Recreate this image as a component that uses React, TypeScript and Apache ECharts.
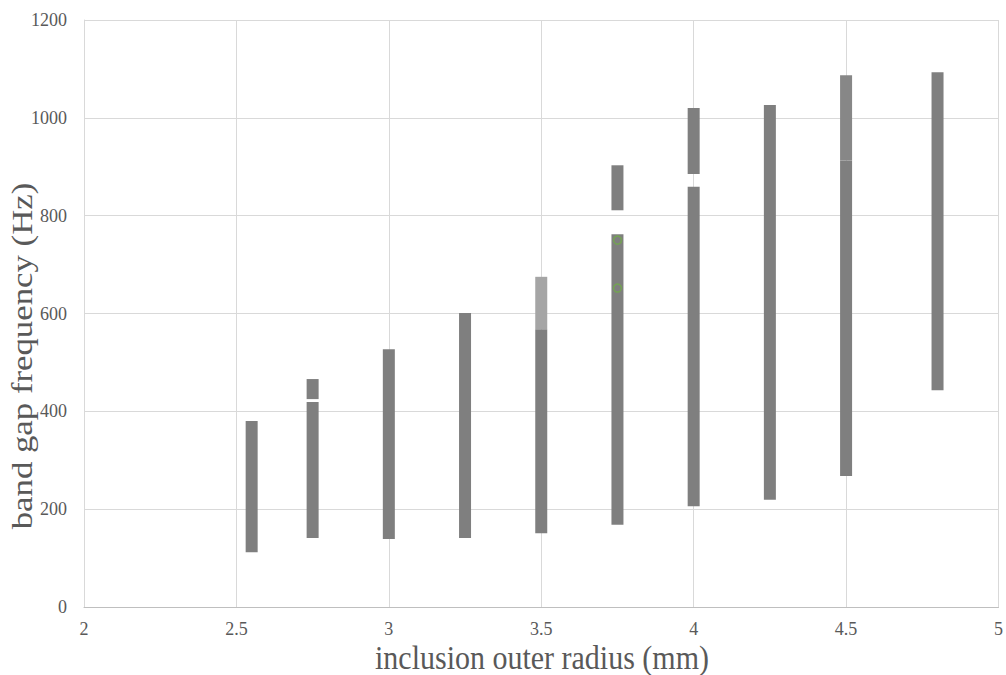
import React, { useEffect, useRef } from "react";
import * as echarts from "echarts";

// Band gap intervals per inclusion outer radius (mm), in Hz
const bandRadius = [2.55, 2.75, 2.75, 3, 3.25, 3.5, 3.5, 3.75, 3.75, 4, 4, 4.25, 4.5, 4.5, 4.8];
const bandLower = [112, 141, 425, 139, 141, 151, 568, 168, 811, 206, 885, 219, 268, 913, 443];
const bandUpper = [380, 419, 466, 527, 601, 568, 675, 762, 903, 859, 1020, 1026, 913, 1087, 1093];
// 0 = main band, 1 = light extension, 2 = slightly lighter extension
const bandTone = [0, 0, 0, 0, 0, 0, 1, 0, 0, 0, 0, 0, 0, 2, 0];

// Marked frequencies
const markRadius = [3.75, 3.75];
const markFreq = [750, 652];

const xTicks = [2, 2.5, 3, 3.5, 4, 4.5, 5];
const yTicks = [0, 200, 400, 600, 800, 1000, 1200];

const toneColors = ["#7f7f7f", "#a5a5a5", "#878787"];
const serif = "'Liberation Serif', 'Times New Roman', serif";
const textGray = "#595959";

export default function App() {
  const ref = useRef<HTMLDivElement>(null);

  useEffect(() => {
    if (!ref.current) return;
    const chart = echarts.init(ref.current, undefined, { renderer: "svg" });

    const bands = bandRadius.map((x, i) => [x, bandLower[i], bandUpper[i], bandTone[i]]);
    const marks = markRadius.map((x, i) => [x, markFreq[i]]);

    chart.setOption({
      animation: false,
      backgroundColor: "#ffffff",
      grid: { left: 84, right: 6, top: 20, bottom: 68 },
      xAxis: {
        type: "value",
        min: xTicks[0],
        max: xTicks[xTicks.length - 1],
        interval: 0.5,
        axisLine: { show: true, lineStyle: { color: "#bfbfbf", width: 1 } },
        axisTick: { show: false },
        axisLabel: {
          fontFamily: serif,
          fontSize: 18,
          color: textGray,
          margin: 13,
          formatter: (v: number) => String(v),
        },
        splitLine: { show: true, lineStyle: { color: "#d9d9d9", width: 1 } },
      },
      yAxis: {
        type: "value",
        min: yTicks[0],
        max: yTicks[yTicks.length - 1],
        interval: 200,
        axisLine: { show: true, lineStyle: { color: "#d9d9d9", width: 1 } },
        axisTick: { show: false },
        axisLabel: {
          fontFamily: serif,
          fontSize: 18,
          color: textGray,
          margin: 17,
          formatter: (v: number) => String(v),
        },
        splitLine: { show: true, lineStyle: { color: "#d9d9d9", width: 1 } },
      },
      graphic: [
        {
          type: "text",
          x: 542,
          y: 657,
          scaleY: 1.15,
          style: {
            text: "inclusion outer radius (mm)",
            fontFamily: serif,
            fontSize: 30,
            fill: textGray,
            align: "center",
            verticalAlign: "middle",
          },
        },
        {
          type: "text",
          x: 22,
          y: 356,
          rotation: Math.PI / 2,
          scaleX: 1.16,
          style: {
            text: "band gap frequency (Hz)",
            fontFamily: serif,
            fontSize: 30,
            fill: textGray,
            align: "center",
            verticalAlign: "middle",
          },
        },
      ],
      series: [
        {
          type: "custom",
          data: bands,
          renderItem: (params: any, api: any) => {
            const x = api.value(0);
            const lo = api.value(1);
            const hi = api.value(2);
            const tone = api.value(3);
            const top = api.coord([x, hi]);
            const bottom = api.coord([x, lo]);
            const w = 12;
            return {
              type: "rect",
              shape: { x: top[0] - w / 2, y: top[1], width: w, height: bottom[1] - top[1] },
              style: { fill: toneColors[tone] },
            };
          },
          z: 2,
        },
        {
          type: "scatter",
          data: marks,
          symbol: "circle",
          symbolSize: 8,
          itemStyle: { color: "rgba(0,0,0,0)", borderColor: "#70ad47", borderWidth: 1.5 },
          z: 3,
        },
      ],
    });

    return () => chart.dispose();
  }, []);

  return (
    <div
      ref={ref}
      style={{ position: "absolute", left: 0, top: 0, width: 1006, height: 675 }}
    />
  );
}
